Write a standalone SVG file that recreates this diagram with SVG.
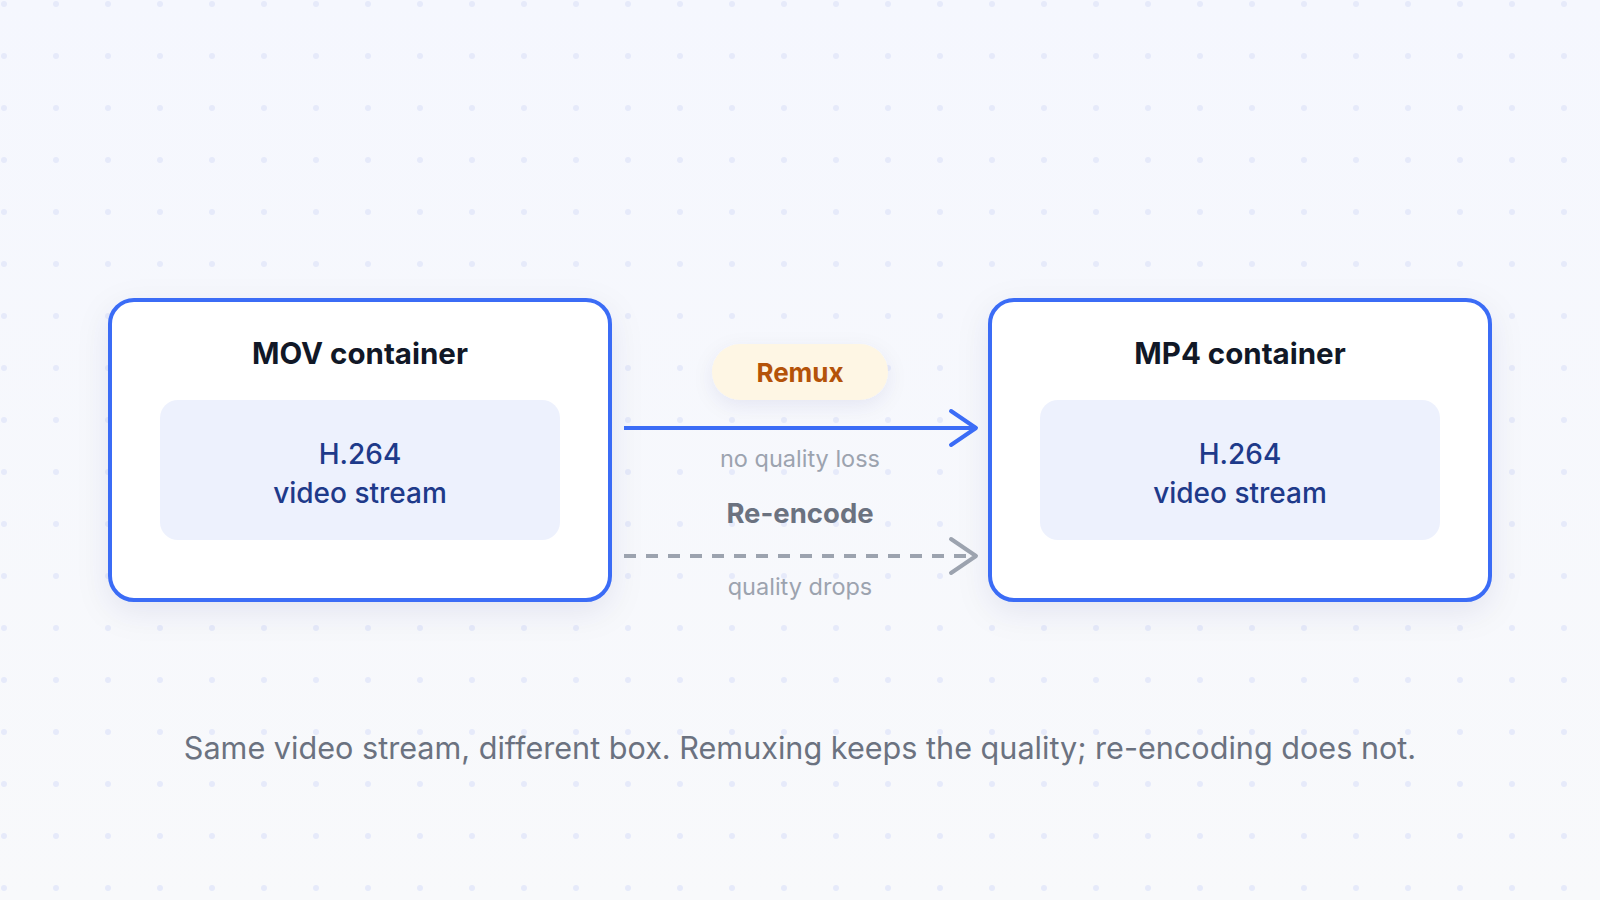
<svg xmlns="http://www.w3.org/2000/svg" width="1600" height="900" viewBox="0 0 1600 900">
  <defs>
    <linearGradient id="bg" x1="0" y1="0" x2="0" y2="1">
      <stop offset="0" stop-color="#f5f7fe"/>
      <stop offset="1" stop-color="#f8f9fb"/>
    </linearGradient>
    <pattern id="dots" x="0" y="0" width="52" height="52" patternUnits="userSpaceOnUse">
      <circle cx="4" cy="4" r="3" fill="#e6eafa"/>
    </pattern>
    <filter id="shadow" x="-20%" y="-20%" width="140%" height="150%">
      <feDropShadow dx="0" dy="10" stdDeviation="16" flood-color="#1e2a6b" flood-opacity="0.08"/>
    </filter>
    <filter id="pillShadow" x="-30%" y="-50%" width="160%" height="220%">
      <feDropShadow dx="0" dy="6" stdDeviation="10" flood-color="#1e2a6b" flood-opacity="0.07"/>
    </filter>
    <marker id="headBlue" markerWidth="14" markerHeight="20" refX="12" refY="10" orient="auto" markerUnits="userSpaceOnUse" viewBox="0 0 14 20" overflow="visible">
      <path d="M-13 -7 L12 10 L-13 27" fill="none" stroke="#3b6cf6" stroke-width="4" stroke-linecap="round" stroke-linejoin="round"/>
    </marker>
    <marker id="headGray" markerWidth="14" markerHeight="20" refX="12" refY="10" orient="auto" markerUnits="userSpaceOnUse" viewBox="0 0 14 20" overflow="visible">
      <path d="M-13 -7 L12 10 L-13 27" fill="none" stroke="#9ca3af" stroke-width="4" stroke-linecap="round" stroke-linejoin="round"/>
    </marker>
  </defs>
  <style>
    .outer { fill: #ffffff; stroke: #3b6cf6; stroke-width: 4; }
    .inner { fill: #edf1fd; }
    .title { font-family: Inter, "Liberation Sans", sans-serif; font-weight: 700; font-size: 29.5px; fill: #111827; text-anchor: middle; }
    .stream { font-family: Inter, "Liberation Sans", sans-serif; font-weight: 500; font-size: 28px; fill: #1e3a8a; text-anchor: middle; }
    .small { font-family: Inter, "Liberation Sans", sans-serif; font-weight: 400; font-size: 23.5px; fill: #9ca3af; text-anchor: middle; }
    .label { font-family: Inter, "Liberation Sans", sans-serif; font-weight: 700; font-size: 27.5px; text-anchor: middle; }
    .caption { font-family: Inter, "Liberation Sans", sans-serif; font-weight: 400; font-size: 30.6px; fill: #6b7280; text-anchor: middle; }
  </style>
  <rect x="0" y="0" width="1600" height="900" fill="url(#bg)"/>
  <rect x="0" y="0" width="1600" height="900" fill="url(#dots)"/>

  <g id="mov-container" filter="url(#shadow)">
    <rect class="outer" x="110" y="300" width="500" height="300" rx="24"/>
  </g>
  <g id="mov-content">
    <text class="title" x="360" y="364">MOV container</text>
    <rect class="inner" x="160" y="400" width="400" height="140" rx="18"/>
    <text class="stream" x="360" y="464">H.264</text>
    <text class="stream" x="360" y="503">video stream</text>
  </g>

  <g id="mp4-container" filter="url(#shadow)">
    <rect class="outer" x="990" y="300" width="500" height="300" rx="24"/>
  </g>
  <g id="mp4-content">
    <text class="title" x="1240" y="364">MP4 container</text>
    <rect class="inner" x="1040" y="400" width="400" height="140" rx="18"/>
    <text class="stream" x="1240" y="464">H.264</text>
    <text class="stream" x="1240" y="503">video stream</text>
  </g>

  <g id="connectors">
    <line x1="624" y1="428" x2="976" y2="428" stroke="#3b6cf6" stroke-width="4" marker-end="url(#headBlue)"/>
    <line x1="624" y1="556" x2="976" y2="556" stroke="#9ca3af" stroke-width="4" stroke-dasharray="12 10" marker-end="url(#headGray)"/>
  </g>

  <g id="remux-label">
    <rect x="712" y="344" width="176" height="56" rx="28" fill="#fef6e4" filter="url(#pillShadow)"/>
    <text class="label" x="800" y="382" fill="#b45309" style="font-size:26px">Remux</text>
    <text class="small" x="800" y="467">no quality loss</text>
  </g>
  <g id="reencode-label">
    <text class="label" x="800" y="523" fill="#6b7280">Re-encode</text>
    <text class="small" x="800" y="595">quality drops</text>
  </g>

  <text class="caption" x="800" y="759">Same video stream, different box. Remuxing keeps the quality; re-encoding does not.</text>
</svg>
